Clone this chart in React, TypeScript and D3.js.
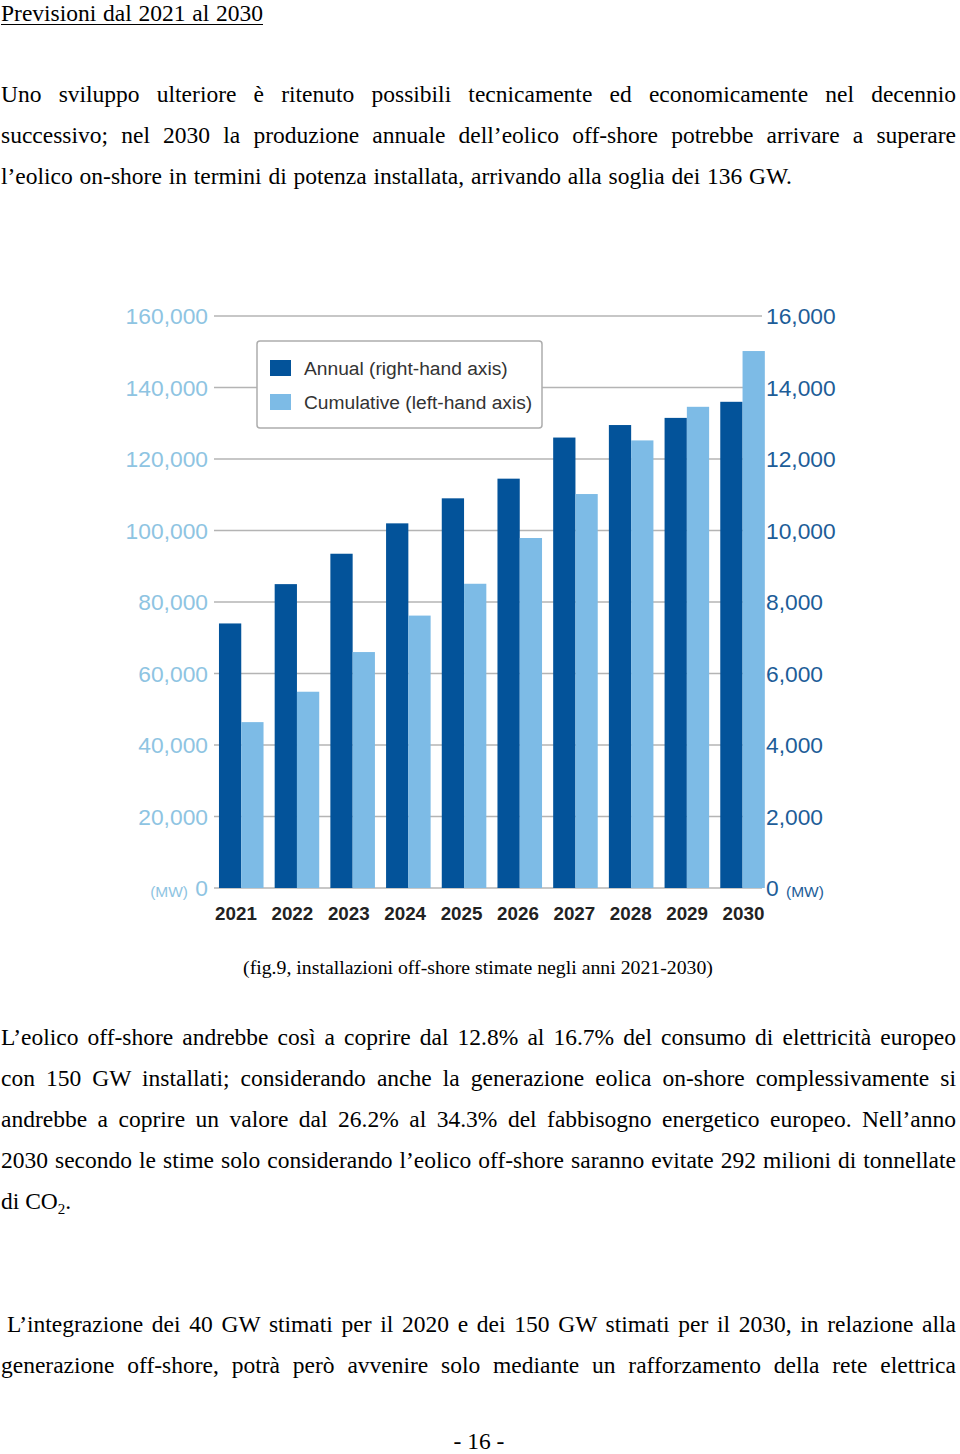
import React, { useEffect, useRef } from "react";
import * as d3 from "d3";

// ---------- data ----------
const years = ["2021", "2022", "2023", "2024", "2025", "2026", "2027", "2028", "2029", "2030"];
const annualMW = [7400, 8500, 9350, 10200, 10900, 11450, 12600, 12950, 13150, 13600];
const cumulativeMW = [46400, 54900, 66000, 76200, 85100, 97900, 110200, 125200, 134600, 150200];
const leftTicks = [0, 20000, 40000, 60000, 80000, 100000, 120000, 140000, 160000];
const rightTicks = [0, 2000, 4000, 6000, 8000, 10000, 12000, 14000, 16000];
const legendLabels = ["Annual (right-hand axis)", "Cumulative (left-hand axis)"];
const unitLabel = "(MW)";

const titleText = "Previsioni dal 2021 al 2030";
const para1 = [
  "Uno sviluppo ulteriore è ritenuto possibili tecnicamente ed economicamente nel decennio",
  "successivo; nel 2030 la produzione annuale dell’eolico off-shore potrebbe arrivare a superare",
  "l’eolico on-shore in termini di potenza installata, arrivando alla soglia dei 136 GW.",
];
const captionText = "(fig.9, installazioni off-shore stimate negli anni 2021-2030)";
const para2 = [
  "L’eolico off-shore andrebbe così a coprire dal 12.8% al 16.7% del consumo di elettricità europeo",
  "con 150 GW installati; considerando anche la generazione eolica on-shore complessivamente si",
  "andrebbe a coprire un valore dal 26.2% al 34.3% del fabbisogno energetico europeo. Nell’anno",
  "2030 secondo le stime solo considerando l’eolico off-shore saranno evitate 292 milioni di tonnellate",
];
const para2Last = "di CO";
const para3 = [
  "L’integrazione dei 40 GW stimati per il 2020 e dei 150 GW stimati per il 2030, in relazione alla",
  "generazione off-shore, potrà però avvenire solo mediante un rafforzamento della rete elettrica",
];
const pageNumber = "- 16 -";

// ---------- styles ----------
const DARK = "#03539a";
const LIGHT = "#7dbbe6";
const LEFT_LABEL = "#8ec4e2";
const RIGHT_LABEL = "#1d5d98";
const GRID = "#b4b4b4";
const SERIF = "'Liberation Serif', 'Times New Roman', serif";
const SANS = "'Liberation Sans', Arial, sans-serif";

const W = 960;
const H = 1454;

export default function App() {
  const ref = useRef<SVGSVGElement>(null);

  useEffect(() => {
    if (!ref.current) return;
    d3.select(ref.current)
      .selectAll<SVGTextElement, unknown>("text.justify")
      .each(function () {
        const el = this as SVGTextElement;
        el.setAttribute("word-spacing", "0");
        const target = +(el.getAttribute("data-w") || 0);
        const len = el.getComputedTextLength();
        const spaces = (el.textContent || "").split(" ").length - 1;
        if (spaces > 0 && target > 0) {
          el.setAttribute("word-spacing", String((target - len) / spaces));
        }
      });
  }, []);

  // chart scales
  const y0 = 888;
  const yTop = 316;
  const yLeft = d3.scaleLinear().domain([0, 160000]).range([y0, yTop]);
  const yRight = d3.scaleLinear().domain([0, 16000]).range([y0, yTop]);
  const x = d3.scaleBand<string>().domain(years).range([213.4, 770.4]).paddingInner(0.2).paddingOuter(0.1);
  const inner = d3.scaleBand<string>().domain(["annual", "cumulative"]).range([0, x.bandwidth()]);
  const xLabel = d3.scalePoint<string>().domain(years).range([236, 743.5]);
  const gridX0 = 214;
  const gridX1 = 762;

  const bodySize = 23.5;
  const lineH = 41;

  const bodyLine = (t: string, xPos: number, yPos: number, w: number, key: string) => (
    <text
      key={key}
      className="justify"
      data-w={w}
      x={xPos}
      y={yPos}
      fontFamily={SERIF}
      fontSize={bodySize}
      fill="#000"
    >
      {t}
    </text>
  );

  return (
    <svg
      ref={ref}
      width={W}
      height={H}
      viewBox={`0 0 ${W} ${H}`}
      style={{ position: "absolute", left: 0, top: 0, background: "#fff", display: "block" }}
    >
      <rect x={0} y={0} width={W} height={H} fill="#fff" />

      {/* title */}
      <text className="justify" data-w={262} x={1} y={20.5} fontFamily={SERIF} fontSize={bodySize} fill="#000">
        {titleText}
      </text>
      <line x1={1} x2={263} y1={24.5} y2={24.5} stroke="#000" strokeWidth={1} />

      {/* paragraph 1 */}
      {para1.map((t, i) => bodyLine(t, 1, 102 + i * lineH, i < para1.length - 1 ? 955 : 791, `p1-${i}`))}

      {/* chart */}
      <g>
        {leftTicks.map((t) => (
          <line key={`g${t}`} x1={gridX0} x2={gridX1} y1={yLeft(t)} y2={yLeft(t)} stroke={GRID} strokeWidth={1.6} />
        ))}
        {years.map((yr, i) => (
          <g key={yr} transform={`translate(${x(yr)},0)`}>
            <rect
              x={inner("annual")}
              y={yRight(annualMW[i])}
              width={inner.bandwidth()}
              height={y0 - yRight(annualMW[i])}
              fill={DARK}
            />
            <rect
              x={inner("cumulative")}
              y={yLeft(cumulativeMW[i])}
              width={inner.bandwidth()}
              height={y0 - yLeft(cumulativeMW[i])}
              fill={LIGHT}
            />
          </g>
        ))}
        {leftTicks.map((t) => (
          <text
            key={`l${t}`}
            x={208}
            y={yLeft(t)}
            dy="0.36em"
            textAnchor="end"
            fontFamily={SANS}
            fontSize={22.8}
            fill={LEFT_LABEL}
          >
            {d3.format(",")(t)}
          </text>
        ))}
        {rightTicks.map((t) => (
          <text
            key={`r${t}`}
            x={766}
            y={yRight(t)}
            dy="0.36em"
            textAnchor="start"
            fontFamily={SANS}
            fontSize={22.8}
            fill={RIGHT_LABEL}
          >
            {d3.format(",")(t)}
          </text>
        ))}
        <text x={188} y={y0 + 3} dy="0.36em" textAnchor="end" fontFamily={SANS} fontSize={15.5} fill={LEFT_LABEL}>
          {unitLabel}
        </text>
        <text x={786} y={y0 + 3} dy="0.36em" textAnchor="start" fontFamily={SANS} fontSize={15.5} fill={RIGHT_LABEL}>
          {unitLabel}
        </text>
        {years.map((yr) => (
          <text
            key={`y${yr}`}
            x={xLabel(yr)}
            y={920}
            textAnchor="middle"
            fontFamily={SANS}
            fontWeight="bold"
            fontSize={18.8}
            fill="#222"
          >
            {yr}
          </text>
        ))}

        {/* legend */}
        <rect x={257} y={341} width={285} height={87} rx={3} fill="#fff" stroke="#adadad" strokeWidth={1.5} />
        {legendLabels.map((lab, i) => (
          <g key={lab} transform={`translate(270,${360 + i * 34})`}>
            <rect x={0} y={0} width={21} height={16} fill={i === 0 ? DARK : LIGHT} />
            <text x={34} y={8} dy="0.36em" fontFamily={SANS} fontSize={19.2} fill="#333">
              {lab}
            </text>
          </g>
        ))}
      </g>

      {/* caption */}
      <text x={478} y={974} textAnchor="middle" fontFamily={SERIF} fontSize={19.8} fill="#000">
        {captionText}
      </text>

      {/* paragraph 2 */}
      {para2.map((t, i) => bodyLine(t, 1, 1045 + i * lineH, 955, `p2-${i}`))}
      <text x={1} y={1045 + 4 * lineH} fontFamily={SERIF} fontSize={bodySize} fill="#000">
        {para2Last}
        <tspan fontSize={15} dy={5}>2</tspan>
        <tspan dy={-5}>.</tspan>
      </text>

      {/* paragraph 3 */}
      {para3.map((t, i) => bodyLine(t, i === 0 ? 7 : 1, 1332 + i * lineH, i === 0 ? 949 : 955, `p3-${i}`))}

      {/* page number */}
      <text x={479} y={1449} textAnchor="middle" fontFamily={SERIF} fontSize={bodySize} fill="#000">
        {pageNumber}
      </text>
    </svg>
  );
}
